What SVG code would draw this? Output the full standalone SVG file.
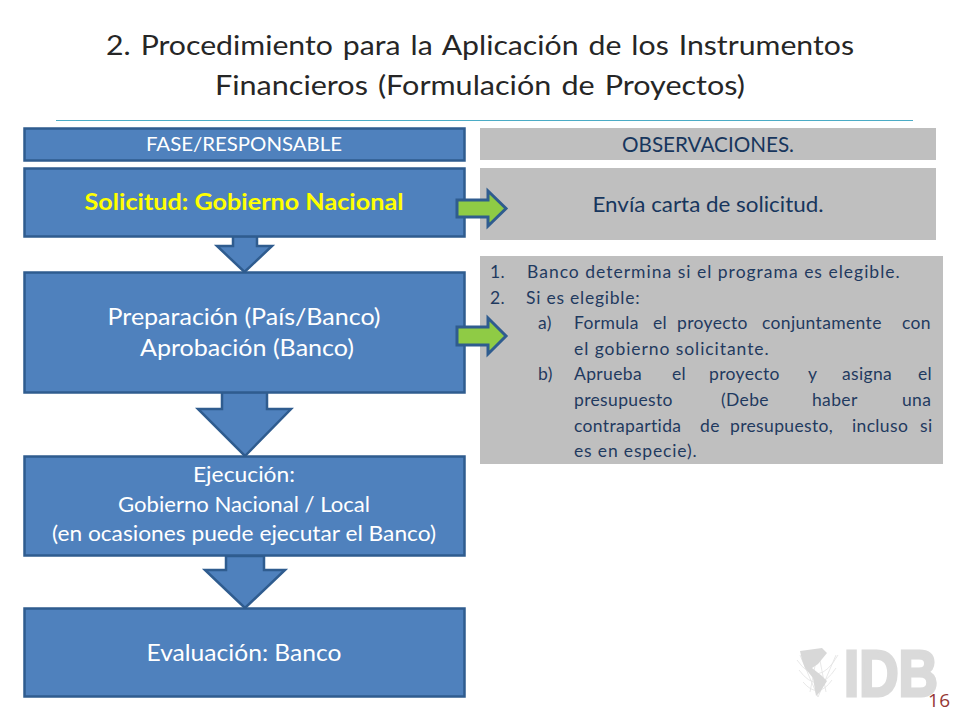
<svg xmlns="http://www.w3.org/2000/svg" width="960" height="720" viewBox="0 0 960 720">
<style>
text{font-family:Lato,"Open Sans","Liberation Sans",sans-serif}
.box{fill:#4F81BD;stroke:#2F5C8F;stroke-width:2.5}
.down{fill:#4F81BD;stroke:#2F5C8F;stroke-width:2.5;stroke-linejoin:miter}
.green{fill:#8FCB45;stroke:#2F5C8F;stroke-width:3}
.grey{fill:#BFBFBF}
.title{font-size:27px;fill:#262626;text-anchor:middle;word-spacing:2px}
.w{fill:#fff;text-anchor:middle}
.obs{fill:#17365D;text-anchor:middle}
.li{font-size:17.5px;fill:#1F3A5F;letter-spacing:.35px}
.mesh{fill:none;stroke:#E2E2E2;stroke-width:.8}
</style>
<rect width="960" height="720" fill="#fff"/>
<g id="title">
<text class="title" x="480" y="55" textLength="748" lengthAdjust="spacingAndGlyphs">2. Procedimiento para la Aplicación de los Instrumentos</text>
<text class="title" x="480" y="95" textLength="530" lengthAdjust="spacingAndGlyphs">Financieros (Formulación de Proyectos)</text>
<line x1="56" y1="120.500" x2="913" y2="120.500" stroke="#4BACC6" stroke-width="1"/>
</g>
<g id="logo">
<path class="mesh" d="M797 660Q818 690 838 655M799 670Q818 696 836 668M803 682Q818 700 832 680M810 692L818 650M826 692L818 650M800 655L818 697M836 655L818 697"/>
<path d="M800 651L822 648L827 653L818 664L812 668L822 676L827 681L820 692L816 696L813 678L805 668L802 660Z" fill="#D8D8D8"/>
<text x="844" y="696" font-size="64" font-weight="700" fill="#DADADA" stroke="#DADADA" stroke-width="3" textLength="94" lengthAdjust="spacingAndGlyphs" style="font-family:'Liberation Sans',sans-serif">IDB</text>
</g>
<g id="connectors">
<path class="down" d="M233 236V246H217L244.500 272L272 246H257V236Z"/>
<path class="down" d="M222 392V409H198L245 456L291 409H267V392Z"/>
<path class="down" d="M226 556V570H205L245 608L285 570H264V556Z"/>
</g>
<g id="fase">
<rect class="box" x="24.500" y="128.500" width="440" height="32"/>
<text class="w" x="244" y="151" font-size="20" textLength="196" lengthAdjust="spacingAndGlyphs">FASE/RESPONSABLE</text>
</g>
<g id="observaciones">
<rect class="grey" x="480" y="128" width="456" height="32"/>
<text class="obs" x="708" y="152" font-size="20.500" textLength="172" lengthAdjust="spacingAndGlyphs">OBSERVACIONES.</text>
</g>
<g id="solicitud">
<rect class="box" x="24.500" y="168.500" width="440" height="68"/>
<text x="244" y="210" font-size="23" font-weight="700" fill="#FFFF00" text-anchor="middle" textLength="319" lengthAdjust="spacingAndGlyphs">Solicitud: Gobierno Nacional</text>
</g>
<g id="obs-solicitud">
<rect class="grey" x="480" y="168" width="456" height="72"/>
<text class="obs" x="708" y="212" font-size="21" textLength="231" lengthAdjust="spacingAndGlyphs">Envía carta de solicitud.</text>
</g>
<g id="preparacion">
<rect class="box" x="24.500" y="272.500" width="440" height="120"/>
<text class="w" x="244" y="325" font-size="23" textLength="273" lengthAdjust="spacingAndGlyphs">Preparación (País/Banco)</text>
<text class="w" x="247" y="356" font-size="23" textLength="214" lengthAdjust="spacingAndGlyphs">Aprobación (Banco)</text>
</g>
<g id="obs-preparacion">
<rect class="grey" x="480" y="256" width="463" height="208"/>
<text class="li" x="490" y="278">1.</text>
<text class="li" x="527" y="278" textLength="373" lengthAdjust="spacing">Banco determina si el programa es elegible.</text>
<text class="li" x="490" y="304">2.</text>
<text class="li" x="526" y="304" textLength="114" lengthAdjust="spacing">Si es elegible:</text>
<text class="li" y="329"><tspan x="538">a)</tspan><tspan x="574">Formula</tspan><tspan x="653">el</tspan><tspan x="677">proyecto</tspan><tspan x="762">conjuntamente</tspan><tspan x="902">con</tspan></text>
<text class="li" x="574" y="355" textLength="195" lengthAdjust="spacing">el gobierno solicitante.</text>
<text class="li" y="380"><tspan x="538">b)</tspan><tspan x="574">Aprueba</tspan><tspan x="672">el</tspan><tspan x="709">proyecto</tspan><tspan x="808">y</tspan><tspan x="842">asigna</tspan><tspan x="918">el</tspan></text>
<text class="li" y="406"><tspan x="574">presupuesto</tspan><tspan x="721">(Debe</tspan><tspan x="812">haber</tspan><tspan x="902">una</tspan></text>
<text class="li" y="432"><tspan x="574">contrapartida</tspan><tspan x="700">de</tspan><tspan x="730">presupuesto,</tspan><tspan x="852">incluso</tspan><tspan x="920">si</tspan></text>
<text class="li" x="574" y="457" textLength="123" lengthAdjust="spacing">es en especie).</text>
</g>
<g id="ejecucion">
<rect class="box" x="24.500" y="456.500" width="440" height="99"/>
<text class="w" x="244" y="482" font-size="20.500" textLength="102" lengthAdjust="spacingAndGlyphs">Ejecución:</text>
<text class="w" x="244" y="512" font-size="20.500" textLength="252" lengthAdjust="spacingAndGlyphs">Gobierno Nacional / Local</text>
<text class="w" x="244" y="541" font-size="20.500" textLength="384" lengthAdjust="spacingAndGlyphs">(en ocasiones puede ejecutar el Banco)</text>
</g>
<g id="evaluacion">
<rect class="box" x="24.500" y="608.500" width="440" height="88"/>
<text class="w" x="244" y="661" font-size="23" textLength="195" lengthAdjust="spacingAndGlyphs">Evaluación: Banco</text>
</g>
<g id="arrows-right">
<path class="green" d="M457 200H488V191L506 208.500L488 226V217H457Z"/>
<path class="green" d="M457 327H488V318L506 336L488 354V345H457Z"/>
</g>
<text x="928" y="707" font-size="19" fill="#953735" textLength="22" style="font-family:'Open Sans',sans-serif">16</text>
</svg>
